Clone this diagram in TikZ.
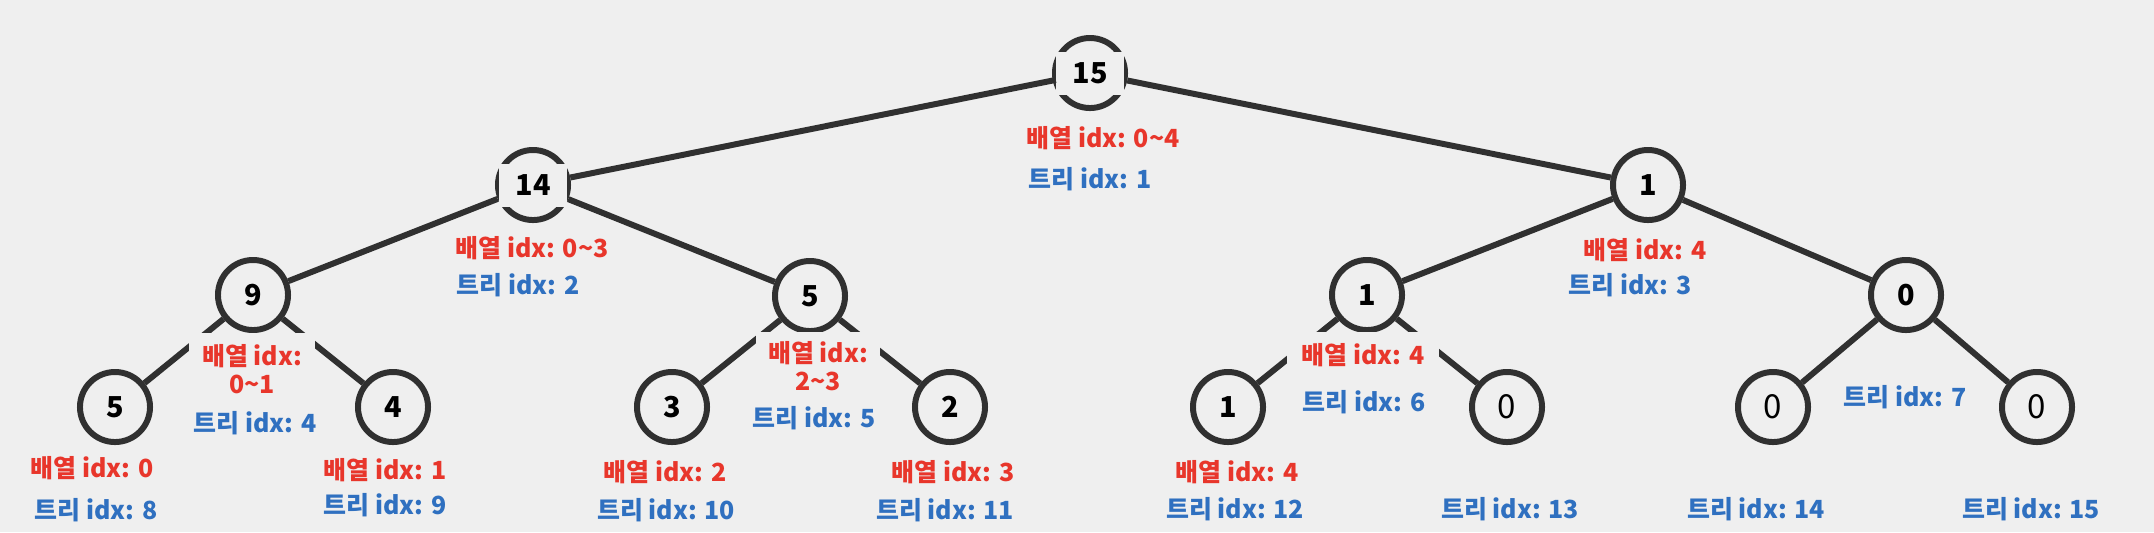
\documentclass[tikz,border=0pt]{standalone}
\usepackage{fontspec}
\setmainfont{Noto Sans CJK KR}
\usetikzlibrary{positioning}
\definecolor{bgc}{HTML}{EFEFEF}
\definecolor{linec}{HTML}{303030}
\definecolor{redc}{HTML}{E8362B}
\definecolor{bluec}{HTML}{2F70C0}

\begin{document}
\begin{tikzpicture}[x=0.01cm, y=-0.01cm,
  vert/.style={circle, draw=linec, line width=1.7pt, fill=bgc, minimum size=0.70cm, inner sep=0pt, font=\fontsize{8.2}{9}\selectfont\bfseries},
  leafzero/.style={vert, font=\fontsize{9.4}{10}\selectfont},
  numbox/.style={fill=bgc, inner sep=0pt, minimum width=0.67cm, minimum height=0.43cm, font=\fontsize{8.2}{9}\selectfont\bfseries},
  treeedge/.style={draw=linec, line width=1.7pt},
  redlbl/.style={text=redc, font=\fontsize{7.1}{8}\selectfont\bfseries, inner sep=0pt},
  bluelbl/.style={text=bluec, font=\fontsize{7.1}{8}\selectfont\bfseries, inner sep=0pt},
  maskbox/.style={redlbl, fill=bgc, align=center}
]
\fill[bgc] (0,0) rectangle (2154,532);
\useasboundingbox (0,0) rectangle (2154,532);

\node[vert] (t1) at (1090, 73) {};
\node[vert] (t2) at (533, 185) {};
\node[vert] (t3) at (1648, 185) {1};
\node[vert] (t4) at (253, 295) {9};
\node[vert] (t5) at (810, 296) {5};
\node[vert] (t6) at (1367, 295) {1};
\node[vert] (t7) at (1906, 295) {0};
\node[vert] (t8) at (115, 407) {5};
\node[vert] (t9) at (393, 407) {4};
\node[vert] (t10) at (672, 407) {3};
\node[vert] (t11) at (950, 407) {2};
\node[vert] (t12) at (1228, 407) {1};
\node[leafzero] (t13) at (1507, 407) {0};
\node[leafzero] (t14) at (1773, 407) {0};
\node[leafzero] (t15) at (2037, 407) {0};
\node[numbox] (k1) at (t1) {15};
\node[numbox] (k2) at (t2) {14};
\draw[treeedge] (k1) -- (t2);
\draw[treeedge] (t1) -- (t3);
\draw[treeedge] (t2) -- (t4);
\draw[treeedge] (t2) -- (t5);
\draw[treeedge] (t3) -- (t6);
\draw[treeedge] (t3) -- (t7);
\draw[treeedge] (t4) -- (t8);
\draw[treeedge] (t4) -- (t9);
\draw[treeedge] (t5) -- (t10);
\draw[treeedge] (t5) -- (t11);
\draw[treeedge] (t6) -- (t12);
\draw[treeedge] (t6) -- (t13);
\draw[treeedge] (t7) -- (t14);
\draw[treeedge] (t7) -- (t15);

% labels under the inner nodes
\node[redlbl] (r1) at (1103, 138) {배열 idx: 0\char`~4};
\node[bluelbl] (b1) at (1090, 179) {트리 idx: 1};
\node[redlbl] (r2) at (532, 248) {배열 idx: 0\char`~3};
\node[bluelbl] (b2) at (518, 285) {트리 idx: 2};
\node[redlbl] (r3) at (1645, 250) {배열 idx: 4};
\node[bluelbl] (b3) at (1630, 285) {트리 idx: 3};
\node[maskbox, minimum width=1.25cm, minimum height=0.72cm] (r4) at (252, 369) {배열 idx:\\0\char`~1};
\node[bluelbl] (b4) at (255, 423) {트리 idx: 4};
\node[maskbox, minimum width=1.23cm, minimum height=0.68cm] (r5) at (818, 366) {배열 idx:\\2\char`~3};
\node[bluelbl] (b5) at (814, 418) {트리 idx: 5};
\node[maskbox, minimum width=1.51cm, minimum height=0.46cm] (r6) at (1363, 355) {배열 idx: 4};
\node[bluelbl] (b6) at (1364, 402) {트리 idx: 6};
\node[bluelbl] (b7) at (1905, 397) {트리 idx: 7};

% labels under the leaves
\node[redlbl] (r8) at (92, 468) {배열 idx: 0};
\node[bluelbl] (b8) at (96, 510) {트리 idx: 8};
\node[redlbl] (r9) at (385, 470) {배열 idx: 1};
\node[bluelbl] (b9) at (385, 505) {트리 idx: 9};
\node[redlbl] (r10) at (665, 472) {배열 idx: 2};
\node[bluelbl] (b10) at (666, 510) {트리 idx: 10};
\node[redlbl] (r11) at (953, 472) {배열 idx: 3};
\node[bluelbl] (b11) at (945, 510) {트리 idx: 11};
\node[redlbl] (r12) at (1237, 472) {배열 idx: 4};
\node[bluelbl] (b12) at (1235, 509) {트리 idx: 12};
\node[bluelbl] (b13) at (1510, 509) {트리 idx: 13};
\node[bluelbl] (b14) at (1756, 509) {트리 idx: 14};
\node[bluelbl] (b15) at (2031, 509) {트리 idx: 15};

\end{tikzpicture}
\end{document}
